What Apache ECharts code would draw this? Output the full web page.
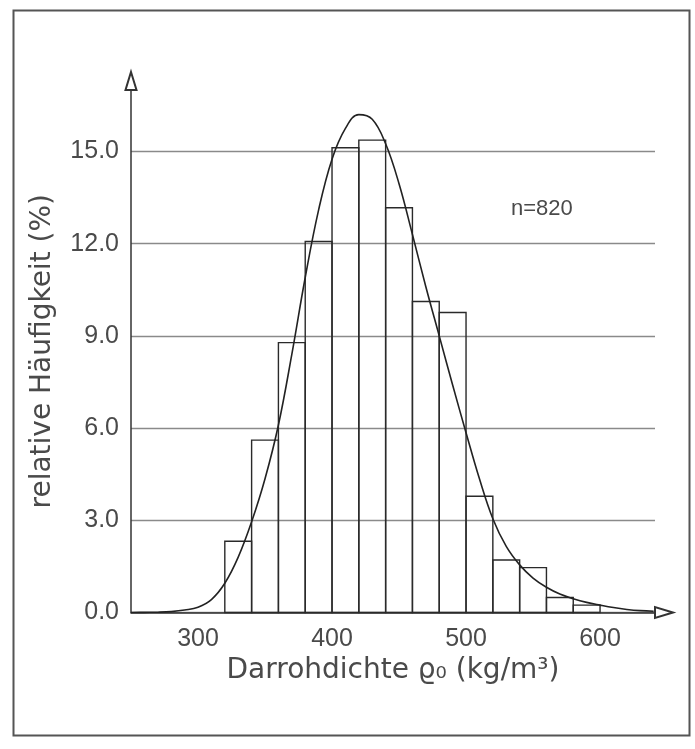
<!DOCTYPE html>
<html><head><meta charset="utf-8">
<script src="https://cdn.jsdelivr.net/npm/echarts@6/dist/echarts.min.js"></script>
<style>html,body{margin:0;padding:0;background:#fff}#c{width:695px;height:749px}</style>
</head><body><div id="c"></div>
<script>
// Histogram bins (kg/m3) and relative frequency (%)
const binStart = [320,340,360,380,400,420,440,460,480,500,520,540,560,580];
const binWidth = 20;
const relFreq = [2.32,5.61,8.78,12.07,15.12,15.37,13.17,10.12,9.76,3.78,1.71,1.46,0.49,0.24];
// Fitted distribution curve
const curveX = [250,260,270,280,290,300,310,320,330,340,350,360,370,380,390,400,410,420,430,440,450,460,470,480,490,500,510,520,530,540,550,560,570,580,590,600,610,620,630,640];
const curveY = [0,0.005,0.01,0.03,0.08,0.17,0.42,0.95,1.8,2.95,4.35,6.1,8.4,10.9,13.1,14.75,15.75,16.2,16.05,15.25,13.95,12.3,10.6,9.0,7.4,5.85,4.35,3.05,2.15,1.55,1.12,0.82,0.6,0.45,0.33,0.24,0.16,0.1,0.06,0.04];
const yTicks = [0,3,6,9,12,15];
const xTicks = [300,400,500,600];
const xName = 'Darrohdichte ϱ₀ (kg/m³)';
const yName = 'relative Häufigkeit (%)';
const sampleLabel = 'n=820';

const chart = echarts.init(document.getElementById('c'), null, {renderer:'canvas'});
const textColor = '#4a4a4a';
const option = {
  backgroundColor: '#fff',
  animation: false,
  grid: {left: 131, right: 40, top: 90, bottom: 136.5, containLabel: false},
  xAxis: {
    type: 'value', min: 250, max: 641,
    axisLine: {show: true, symbol: ['none','emptyTriangle'], symbolSize: [11,18], symbolOffset: [0,9],
      lineStyle: {color: '#333', width: 1.5}},
    axisTick: {show: false},
    splitLine: {show: false},
    axisLabel: {customValues: xTicks, margin: 14, color: textColor, fontFamily: 'Liberation Sans', fontSize: 25},
    name: xName, nameLocation: 'middle', nameGap: 42,
    nameTextStyle: {color: textColor, fontFamily: 'DejaVu Sans', fontSize: 28}
  },
  yAxis: {
    type: 'value', min: 0, max: 17, interval: 3,
    axisLine: {show: true, symbol: ['none','emptyTriangle'], symbolSize: [11,18], symbolOffset: [0,9],
      lineStyle: {color: '#333', width: 1.5}},
    axisTick: {show: false},
    splitLine: {show: true, showMaxLine: false, lineStyle: {color: '#8a8a8a', width: 1.3}},
    axisLabel: {customValues: yTicks, margin: 12, color: textColor, fontFamily: 'Liberation Sans', fontSize: 25,
      formatter: v => v.toFixed(1)},
    name: yName, nameLocation: 'middle', nameGap: 74,
    nameTextStyle: {color: textColor, fontFamily: 'DejaVu Sans', fontSize: 28}
  },
  series: [
    {
      type: 'custom',
      data: binStart.map((s, i) => [s, s + binWidth, relFreq[i]]),
      encode: {x: [0, 1], y: 2},
      renderItem: function (params, api) {
        const p0 = api.coord([api.value(0), api.value(2)]);
        const p1 = api.coord([api.value(1), 0]);
        return {type: 'rect', shape: {x: p0[0], y: p0[1], width: p1[0] - p0[0], height: p1[1] - p0[1]},
          style: {fill: 'none', stroke: '#2a2a2a', lineWidth: 1.4}};
      },
      z: 3
    },
    {
      type: 'line',
      data: curveX.map((x, i) => [x, curveY[i]]),
      smooth: 0.4,
      showSymbol: false, clip: false,
      lineStyle: {color: '#222', width: 1.6},
      z: 4
    }
  ],
  graphic: [
    {type: 'rect', left: 11, top: 8, shape: {width: 676, height: 725}, style: {fill: 'none', stroke: '#555', lineWidth: 2}, z: 0},
    {type: 'text', left: 511, top: 198, style: {text: sampleLabel, fill: textColor, font: '22px "Liberation Sans"'}}
  ]
};
chart.setOption(option);
</script></body></html>
